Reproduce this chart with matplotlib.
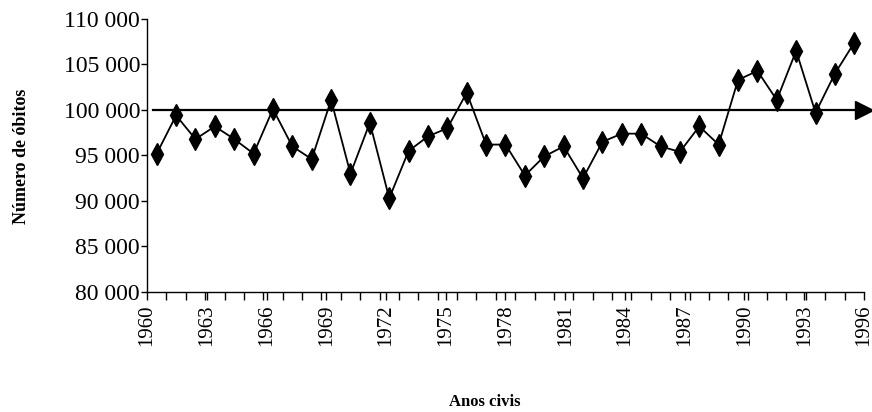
import numpy as np
import matplotlib
matplotlib.use("Agg")
from matplotlib import pyplot as plt

plt.rcParams['font.family'] = ['Liberation Serif', 'DejaVu Serif']

anos = list(range(1960, 1997))
obitos = [95200, 99400, 96800, 98200, 96800, 95200, 100100, 96000, 94600, 101100,
          93000, 98600, 90300, 95500, 97100, 98000, 101900, 96200, 96200, 92800,
          94900, 96000, 92500, 96500, 97400, 97400, 96000, 95400, 98200, 96200,
          103300, 104300, 101100, 106500, 99700, 104000, 107400]
referencia = 100000
rotulos = [str(a) for a in range(1960, 1997, 3)]
yticks = [80000, 85000, 90000, 95000, 100000, 105000, 110000]

fig = plt.figure(figsize=(8.72, 4.12), dpi=100)
ax = fig.add_axes([0.1686, 0.2913, 0.8222, 0.6626])

n = len(anos)
x = np.arange(n) + 0.5

# linha de referencia com seta no fim
ax.plot([0.3, n], [referencia, referencia], color='black', lw=1.6, zorder=2)
ax.plot([n], [referencia], marker='>', color='black', markersize=13, clip_on=False, zorder=3)

ax.plot(x, obitos, color='black', lw=1.3, marker='d', markersize=11, zorder=4)

ax.set_xlim(0, n)
ax.set_ylim(80000, 110000)

ax.set_xticks(np.arange(n + 1), minor=True)
ax.set_xticks(np.linspace(0, n, len(rotulos)))
ax.set_xticklabels(rotulos, rotation=90, fontsize=15)
ax.tick_params(axis='x', which='both', direction='out', length=6, width=1)
ax.tick_params(axis='x', which='major', pad=3)

ax.set_yticks(yticks)
ax.set_yticklabels(['{:,}'.format(v).replace(',', ' ') for v in yticks], fontsize=17)
ax.tick_params(axis='y', direction='out', length=4, width=1, pad=1)

for s in ['top', 'right']:
    ax.spines[s].set_visible(False)
ax.spines['left'].set_linewidth(1)
ax.spines['bottom'].set_linewidth(1)

fig.text(0.025, 0.62, 'Número de óbitos', rotation=90, fontsize=13, fontweight='bold',
         ha='center', va='center')
fig.text(0.556, 0.025, 'Anos civis', fontsize=12, fontweight='bold', ha='center', va='center')

fig.savefig('out.png', dpi=100)
